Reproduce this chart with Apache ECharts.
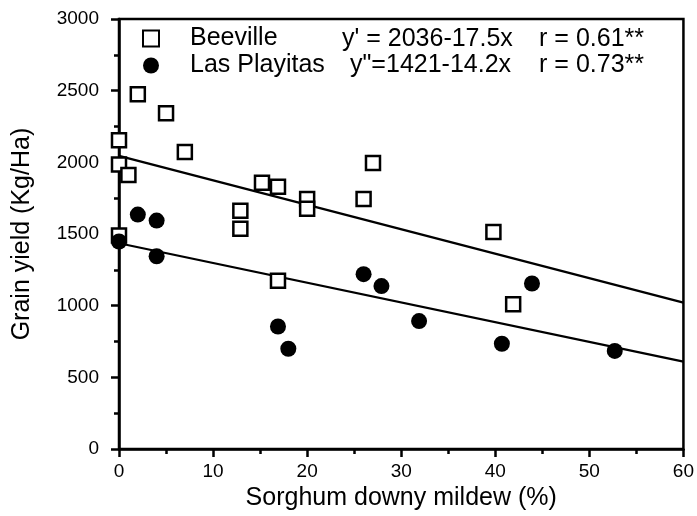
<!DOCTYPE html>
<html>
<head>
<meta charset="utf-8">
<script src="https://cdn.jsdelivr.net/npm/echarts@6/dist/echarts.min.js"></script>
<style>html,body{margin:0;padding:0;background:#fff}#c{width:697px;height:516px}</style>
</head>
<body>
<div id="c"></div>
<script>
const beevilleX = [0, 0, 1, 2, 5, 7, 15.2, 16.9, 20, 20, 27, 26, 12.9, 12.9, 0, 16.9, 39.8, 41.9];
const beevilleY = [2155, 1985, 1912, 2475, 2343, 2072, 1858, 1830, 1745, 1677, 1995, 1745, 1663, 1537, 1490, 1175, 1515, 1010];
const playitasX = [2, 4, 0, 4, 16.9, 18, 26, 27.9, 31.9, 40.7, 43.9, 52.7];
const playitasY = [1636, 1594, 1448, 1345, 855, 700, 1220, 1137, 893, 735, 1155, 685];
const fitBeeX = [0, 60];
const fitBeeY = [2045, 1022];
const fitPlaX = [0, 60];
const fitPlaY = [1436, 610];
const xTicks = [0, 10, 20, 30, 40, 50, 60];
const yTicks = [0, 500, 1000, 1500, 2000, 2500, 3000];
const seriesNames = ['Beeville', 'Las Playitas'];
const eqBee = ["y' = 2036-17.5x", 'r = 0.61**'];
const eqPla = ['y"=1421-14.2x', 'r = 0.73**'];

const zip = (a, b) => a.map((v, i) => [v, b[i]]);
const F = 'Liberation Sans, Arial, Helvetica, sans-serif';
const chart = echarts.init(document.getElementById('c'));
chart.setOption({
  animation: false,
  backgroundColor: '#fff',
  textStyle: { fontFamily: F, color: '#000' },
  grid: { left: 119, right: 11, top: 19, bottom: 66, show: true, borderColor: '#000', borderWidth: 2.5, backgroundColor: 'transparent' },
  legend: {
    orient: 'vertical', left: 137, top: 21, itemWidth: 16, itemHeight: 16, itemGap: 2,
    data: seriesNames,
    textStyle: { fontFamily: F, fontSize: 25, lineHeight: 25, color: '#000', padding: [0, 0, 0, 26] }
  },
  graphic: [
    { type: 'text', left: 342, top: 27, style: { text: eqBee[0], font: '25px ' + F, fill: '#000' } },
    { type: 'text', right: 53, top: 27, style: { text: eqBee[1], font: '25px ' + F, fill: '#000' } },
    { type: 'text', left: 350, top: 53, style: { text: eqPla[0], font: '25px ' + F, fill: '#000' } },
    { type: 'text', right: 53, top: 53, style: { text: eqPla[1], font: '25px ' + F, fill: '#000' } }
  ],
  xAxis: {
    type: 'value', min: xTicks[0], max: xTicks[xTicks.length - 1], interval: 10,
    name: 'Sorghum downy mildew (%)', nameLocation: 'middle', nameGap: 35,
    nameTextStyle: { fontFamily: F, fontSize: 25, color: '#000' },
    axisLine: { lineStyle: { color: '#000', width: 2.5 } },
    axisTick: { show: true, length: 8, lineStyle: { color: '#000', width: 2.5 } },
    minorTick: { show: true, splitNumber: 2, length: 5, lineStyle: { color: '#000', width: 2.5 } },
    axisLabel: { fontFamily: F, fontSize: 19, color: '#000', margin: 13, formatter: v => String(v) },
    splitLine: { show: false }
  },
  yAxis: {
    type: 'value', min: yTicks[0], max: yTicks[yTicks.length - 1], interval: 500,
    name: 'Grain yield (Kg/Ha)', nameLocation: 'middle', nameGap: 84,
    nameTextStyle: { fontFamily: F, fontSize: 25, color: '#000' },
    axisLine: { show: true, lineStyle: { color: '#000', width: 2.5 } },
    axisTick: { show: true, length: 8, lineStyle: { color: '#000', width: 2.5 } },
    minorTick: { show: true, splitNumber: 2, length: 5, lineStyle: { color: '#000', width: 2.5 } },
    axisLabel: { fontFamily: F, fontSize: 19, color: '#000', margin: 20, formatter: v => String(v) },
    splitLine: { show: false }
  },
  series: [
    { name: 'fitBee', type: 'line', data: zip(fitBeeX, fitBeeY), showSymbol: false, lineStyle: { color: '#000', width: 2.2 }, z: 1, silent: true },
    { name: 'fitPla', type: 'line', data: zip(fitPlaX, fitPlaY), showSymbol: false, lineStyle: { color: '#000', width: 2.2 }, z: 1, silent: true },
    { name: seriesNames[0], type: 'scatter', data: zip(beevilleX, beevilleY), symbol: 'rect', symbolSize: 14,
      itemStyle: { color: '#fff', borderColor: '#000', borderWidth: 2.5, opacity: 1 }, z: 3 },
    { name: seriesNames[1], type: 'scatter', data: zip(playitasX, playitasY), symbol: 'circle', symbolSize: 16,
      itemStyle: { color: '#000', opacity: 1 }, z: 4 }
  ]
});
</script>
</body>
</html>
